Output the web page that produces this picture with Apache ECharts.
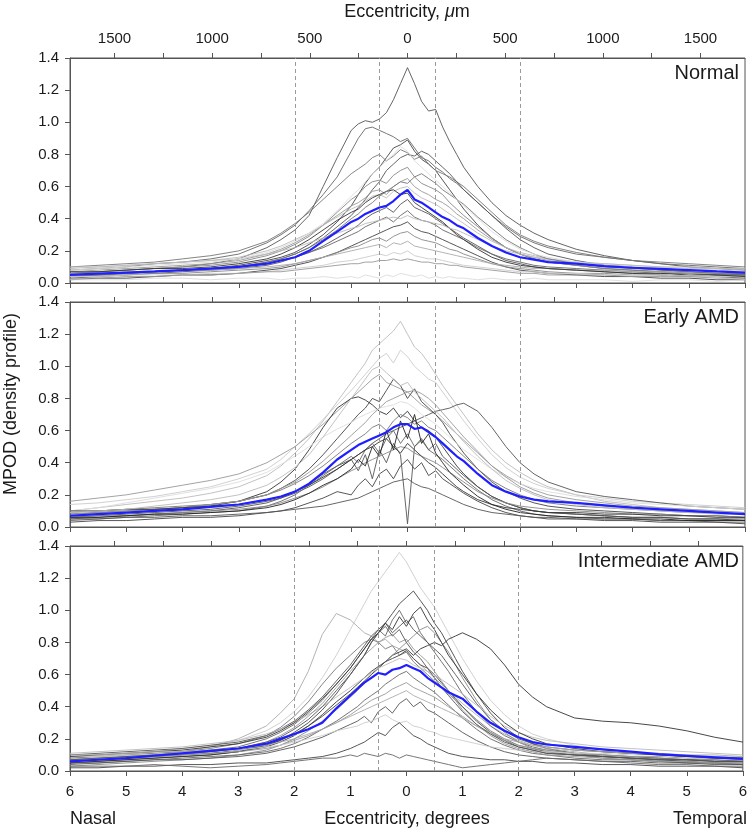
<!DOCTYPE html>
<html><head><meta charset="utf-8">
<script src="https://cdn.jsdelivr.net/npm/echarts@6/dist/echarts.min.js"></script>
<style>html,body{margin:0;padding:0;background:#fff}#c{width:750px;height:832px}</style>
</head><body><div id="c"></div>
<script>
// ---------- data ----------
const eccDeg = [-6,-5.5,-5,-4.5,-4,-3.5,-3,-2.5,-2.25,
  -2,-1.75,-1.5,-1.25,-1,
  -0.875,-0.75,-0.625,-0.5,-0.375,-0.25,-0.125,0,0.125,0.25,0.375,0.5,0.625,0.75,0.875,
  1,1.25,1.5,1.75,2,
  2.25,2.5,3,3.5,4,4.5,5,5.5,6];
const umPerDegree = 288;
const umTickValues = [-1500,-1250,-1000,-750,-500,-250,0,250,500,750,1000,1250,1500];
const umLabelValues = [-1500,-1000,-500,0,500,1000,1500];
const dashedAt = [-2,-0.5,0.5,2];
const panelNames = ['Normal','Early AMD','Intermediate AMD'];

const normalCurves = [
 [0.06,0.07,0.08,0.09,0.10,0.12,0.15,0.22,0.27, 0.33,0.42,0.60,0.78,0.95, 0.99,1.01,1.00,1.02,1.06,1.14,1.24,1.34,1.24,1.13,1.07,1.08,0.97,0.88,0.80, 0.72,0.60,0.50,0.42,0.36, 0.31,0.27,0.21,0.17,0.14,0.12,0.10,0.09,0.08],
 [0.08,0.09,0.10,0.12,0.13,0.15,0.18,0.25,0.30, 0.36,0.45,0.55,0.66,0.82, 0.90,0.96,0.97,0.95,0.93,0.91,0.88,0.90,0.84,0.78,0.76,0.72,0.69,0.65,0.62, 0.58,0.50,0.42,0.35,0.29, 0.25,0.22,0.18,0.16,0.14,0.12,0.11,0.10,0.09],
 [0.04,0.05,0.06,0.07,0.08,0.09,0.11,0.14,0.16, 0.19,0.24,0.30,0.38,0.48, 0.55,0.62,0.68,0.72,0.78,0.84,0.86,0.89,0.82,0.77,0.74,0.70,0.64,0.58,0.52, 0.46,0.36,0.28,0.22,0.18, 0.15,0.13,0.11,0.09,0.08,0.07,0.06,0.05,0.05],
 [0.10,0.11,0.12,0.13,0.15,0.17,0.20,0.26,0.31, 0.37,0.44,0.52,0.60,0.68, 0.71,0.74,0.78,0.80,0.76,0.79,0.83,0.81,0.77,0.79,0.74,0.70,0.68,0.66,0.63, 0.60,0.52,0.44,0.36,0.30, 0.26,0.23,0.19,0.16,0.14,0.13,0.12,0.11,0.10],
 [0.05,0.06,0.06,0.07,0.08,0.09,0.10,0.13,0.15, 0.18,0.22,0.28,0.35,0.42, 0.47,0.52,0.58,0.63,0.70,0.74,0.78,0.80,0.79,0.82,0.80,0.76,0.72,0.68,0.63, 0.58,0.50,0.42,0.34,0.27, 0.22,0.18,0.14,0.11,0.10,0.08,0.07,0.06,0.05],
 [0.06,0.07,0.08,0.09,0.10,0.11,0.13,0.17,0.20, 0.24,0.29,0.36,0.44,0.52, 0.55,0.60,0.63,0.64,0.62,0.67,0.70,0.72,0.66,0.62,0.60,0.58,0.55,0.50,0.46, 0.42,0.35,0.28,0.22,0.18, 0.15,0.13,0.11,0.09,0.08,0.07,0.06,0.05,0.05],
 [0.07,0.08,0.09,0.10,0.11,0.12,0.14,0.18,0.21, 0.25,0.30,0.36,0.42,0.48, 0.50,0.53,0.57,0.58,0.55,0.60,0.63,0.65,0.60,0.57,0.55,0.52,0.50,0.47,0.43, 0.40,0.33,0.27,0.22,0.18, 0.16,0.14,0.12,0.11,0.10,0.09,0.08,0.08,0.07],
 [0.09,0.10,0.11,0.12,0.13,0.14,0.16,0.20,0.23, 0.27,0.31,0.36,0.41,0.46, 0.48,0.51,0.54,0.55,0.53,0.57,0.59,0.60,0.56,0.53,0.51,0.49,0.46,0.43,0.40, 0.37,0.31,0.26,0.22,0.19, 0.17,0.15,0.13,0.12,0.11,0.10,0.09,0.09,0.08],
 [0.03,0.04,0.05,0.06,0.07,0.08,0.09,0.11,0.13, 0.16,0.19,0.23,0.28,0.33, 0.36,0.40,0.43,0.45,0.47,0.44,0.49,0.52,0.47,0.45,0.43,0.40,0.37,0.34,0.31, 0.28,0.23,0.18,0.14,0.12, 0.10,0.09,0.08,0.07,0.06,0.05,0.04,0.04,0.03],
 [0.05,0.06,0.06,0.07,0.08,0.09,0.10,0.12,0.14, 0.16,0.19,0.22,0.26,0.30, 0.32,0.35,0.37,0.39,0.41,0.38,0.42,0.45,0.41,0.39,0.38,0.36,0.33,0.31,0.29, 0.27,0.22,0.18,0.15,0.13, 0.11,0.10,0.09,0.08,0.07,0.06,0.06,0.05,0.05],
 [0.02,0.03,0.03,0.04,0.05,0.05,0.06,0.08,0.09, 0.11,0.13,0.16,0.19,0.23, 0.25,0.27,0.29,0.31,0.33,0.35,0.36,0.38,0.34,0.32,0.31,0.29,0.27,0.25,0.23, 0.21,0.17,0.13,0.10,0.08, 0.07,0.06,0.05,0.04,0.04,0.03,0.03,0.02,0.02],
 [0.04,0.05,0.05,0.06,0.06,0.07,0.08,0.09,0.10, 0.12,0.14,0.16,0.19,0.22, 0.23,0.25,0.27,0.28,0.26,0.29,0.31,0.32,0.29,0.27,0.26,0.25,0.23,0.21,0.20, 0.18,0.15,0.12,0.10,0.09, 0.08,0.07,0.06,0.06,0.05,0.05,0.04,0.04,0.04],
 [0.06,0.06,0.07,0.07,0.08,0.08,0.09,0.10,0.11, 0.12,0.14,0.16,0.18,0.20, 0.21,0.22,0.23,0.24,0.22,0.25,0.24,0.26,0.23,0.22,0.21,0.20,0.19,0.18,0.17, 0.16,0.14,0.12,0.11,0.10, 0.09,0.09,0.08,0.08,0.07,0.07,0.06,0.06,0.06],
 [0.04,0.04,0.05,0.05,0.05,0.06,0.06,0.07,0.08, 0.09,0.10,0.11,0.13,0.14, 0.15,0.16,0.17,0.18,0.17,0.19,0.18,0.20,0.17,0.16,0.15,0.15,0.14,0.13,0.12, 0.11,0.10,0.09,0.08,0.07, 0.07,0.06,0.06,0.05,0.05,0.05,0.04,0.04,0.04],
 [0.02,0.02,0.02,0.03,0.03,0.02,0.03,0.03,0.02, 0.03,0.03,0.04,0.03,0.04, 0.03,0.05,0.04,0.03,0.05,0.04,0.06,0.05,0.04,0.05,0.03,0.04,0.03,0.04,0.03, 0.03,0.02,0.03,0.02,0.02, 0.03,0.02,0.02,0.02,0.01,0.02,0.02,0.01,0.02],
 [0.07,0.07,0.08,0.09,0.09,0.10,0.12,0.15,0.18, 0.22,0.27,0.33,0.39,0.44, 0.46,0.50,0.53,0.55,0.57,0.58,0.55,0.56,0.50,0.47,0.44,0.41,0.38,0.34,0.30, 0.27,0.21,0.16,0.13,0.11, 0.10,0.09,0.08,0.07,0.06,0.06,0.05,0.05,0.04],
 [0.10,0.10,0.11,0.12,0.13,0.14,0.15,0.18,0.20, 0.22,0.25,0.28,0.31,0.34, 0.35,0.37,0.38,0.39,0.40,0.41,0.40,0.42,0.40,0.39,0.38,0.37,0.36,0.34,0.33, 0.31,0.27,0.23,0.20,0.18, 0.16,0.15,0.13,0.12,0.11,0.10,0.10,0.09,0.09],
 [0.05,0.05,0.06,0.07,0.08,0.09,0.10,0.13,0.15, 0.18,0.22,0.27,0.33,0.40, 0.43,0.47,0.50,0.54,0.57,0.60,0.63,0.62,0.66,0.68,0.65,0.62,0.58,0.55,0.52, 0.49,0.41,0.34,0.27,0.22, 0.18,0.15,0.12,0.10,0.09,0.08,0.07,0.06,0.06],
 [0.08,0.09,0.10,0.11,0.12,0.13,0.15,0.19,0.22, 0.26,0.31,0.37,0.45,0.54, 0.58,0.63,0.68,0.72,0.76,0.80,0.85,0.82,0.76,0.72,0.68,0.64,0.60,0.56,0.52, 0.48,0.40,0.32,0.26,0.21, 0.18,0.16,0.13,0.11,0.10,0.09,0.08,0.08,0.07],
 [0.03,0.03,0.04,0.04,0.05,0.05,0.06,0.07,0.07, 0.08,0.09,0.10,0.11,0.12, 0.12,0.13,0.13,0.14,0.14,0.15,0.14,0.15,0.14,0.13,0.13,0.12,0.12,0.11,0.11, 0.10,0.09,0.08,0.07,0.06, 0.06,0.05,0.05,0.05,0.04,0.04,0.04,0.03,0.03]
];
const normalShades = ['#555','#666','#444','#777','#555','#888','#999','#bbb','#555','#666','#444','#888','#aaa','#ccc','#ddd','#333','#bbb','#777','#ddd','#999'];
const normalMean = [0.050,0.058,0.065,0.072,0.080,0.090,0.100,0.120,0.140, 0.16,0.20,0.26,0.32,0.38, 0.40,0.43,0.45,0.47,0.48,0.51,0.55,0.58,0.52,0.50,0.47,0.44,0.41,0.39,0.36, 0.34,0.28,0.23,0.19,0.16, 0.145,0.13,0.12,0.105,0.095,0.088,0.08,0.072,0.065];

const earlyCurves = [
 [0.10,0.12,0.14,0.16,0.18,0.21,0.25,0.32,0.38, 0.46,0.55,0.66,0.78,0.90, 0.96,1.02,1.10,1.14,1.18,1.22,1.28,1.20,1.12,1.08,1.02,0.95,0.88,0.82,0.76, 0.70,0.58,0.48,0.40,0.34, 0.29,0.25,0.20,0.16,0.14,0.12,0.11,0.10,0.09],
 [0.14,0.15,0.17,0.19,0.22,0.25,0.30,0.36,0.42, 0.50,0.58,0.67,0.76,0.85, 0.90,0.95,1.00,1.05,1.08,1.02,1.10,1.06,1.00,0.96,0.92,0.90,0.84,0.78,0.72, 0.66,0.55,0.45,0.37,0.31, 0.27,0.24,0.20,0.18,0.16,0.15,0.14,0.13,0.12],
 [0.16,0.18,0.20,0.23,0.26,0.29,0.33,0.40,0.45, 0.50,0.57,0.64,0.72,0.80, 0.84,0.88,0.92,0.95,0.90,0.88,0.86,0.84,0.80,0.76,0.73,0.70,0.66,0.62,0.58, 0.54,0.46,0.38,0.32,0.27, 0.23,0.20,0.17,0.15,0.13,0.12,0.11,0.10,0.09],
 [0.08,0.09,0.10,0.11,0.12,0.14,0.16,0.20,0.24, 0.29,0.36,0.45,0.55,0.65, 0.70,0.74,0.80,0.78,0.85,0.92,0.88,0.80,0.86,0.78,0.74,0.70,0.65,0.58,0.52, 0.46,0.36,0.28,0.22,0.18, 0.15,0.13,0.11,0.10,0.09,0.08,0.07,0.07,0.06],
 [0.06,0.07,0.08,0.09,0.10,0.11,0.13,0.16,0.18, 0.21,0.25,0.30,0.36,0.42, 0.45,0.48,0.52,0.55,0.58,0.60,0.62,0.64,0.66,0.68,0.70,0.72,0.73,0.74,0.76, 0.77,0.72,0.62,0.50,0.40, 0.33,0.28,0.22,0.19,0.17,0.15,0.13,0.12,0.11],
 [0.07,0.08,0.09,0.10,0.11,0.13,0.16,0.22,0.28, 0.36,0.48,0.62,0.74,0.80, 0.81,0.79,0.76,0.72,0.70,0.74,0.68,0.72,0.66,0.62,0.60,0.56,0.50,0.44,0.38, 0.33,0.25,0.19,0.15,0.12, 0.10,0.09,0.08,0.07,0.06,0.06,0.05,0.05,0.04],
 [0.05,0.06,0.07,0.08,0.09,0.10,0.12,0.15,0.18, 0.22,0.27,0.33,0.38,0.42, 0.35,0.45,0.30,0.48,0.40,0.52,0.45,0.02,0.50,0.55,0.48,0.52,0.44,0.40,0.36, 0.32,0.25,0.19,0.15,0.12, 0.10,0.09,0.08,0.07,0.06,0.06,0.05,0.05,0.05],
 [0.09,0.10,0.11,0.12,0.13,0.14,0.16,0.20,0.23, 0.27,0.32,0.38,0.45,0.52, 0.55,0.58,0.62,0.64,0.60,0.66,0.70,0.68,0.64,0.66,0.62,0.60,0.56,0.52,0.48, 0.44,0.36,0.29,0.24,0.20, 0.17,0.15,0.13,0.12,0.11,0.10,0.09,0.09,0.08],
 [0.04,0.05,0.06,0.07,0.08,0.09,0.10,0.13,0.16, 0.20,0.26,0.32,0.38,0.44, 0.40,0.48,0.52,0.46,0.55,0.60,0.52,0.58,0.50,0.54,0.48,0.45,0.42,0.38,0.34, 0.30,0.23,0.17,0.13,0.10, 0.08,0.07,0.06,0.05,0.05,0.04,0.04,0.03,0.03],
 [0.06,0.07,0.07,0.08,0.09,0.10,0.11,0.13,0.15, 0.18,0.21,0.25,0.30,0.35, 0.37,0.40,0.42,0.44,0.46,0.48,0.50,0.49,0.46,0.44,0.42,0.40,0.37,0.34,0.31, 0.28,0.22,0.18,0.15,0.13, 0.12,0.11,0.10,0.09,0.08,0.08,0.07,0.07,0.06],
 [0.03,0.04,0.04,0.05,0.06,0.06,0.07,0.09,0.10, 0.12,0.15,0.18,0.22,0.20, 0.26,0.30,0.25,0.33,0.36,0.30,0.38,0.42,0.36,0.40,0.32,0.35,0.30,0.27,0.24, 0.21,0.16,0.12,0.09,0.07, 0.06,0.05,0.05,0.04,0.04,0.03,0.03,0.03,0.02],
 [0.05,0.05,0.06,0.06,0.07,0.07,0.08,0.09,0.10, 0.11,0.12,0.13,0.15,0.17, 0.18,0.20,0.22,0.24,0.26,0.28,0.29,0.30,0.27,0.25,0.24,0.22,0.20,0.18,0.16, 0.14,0.11,0.09,0.08,0.07, 0.06,0.06,0.05,0.05,0.05,0.04,0.04,0.04,0.04],
 [0.10,0.12,0.15,0.18,0.21,0.24,0.28,0.34,0.39, 0.44,0.50,0.56,0.61,0.65, 0.68,0.70,0.72,0.74,0.75,0.76,0.78,0.77,0.74,0.70,0.67,0.64,0.60,0.56,0.52, 0.48,0.42,0.36,0.31,0.27, 0.24,0.22,0.19,0.17,0.15,0.14,0.13,0.12,0.11],
 [0.08,0.09,0.10,0.11,0.12,0.14,0.16,0.20,0.24, 0.28,0.34,0.41,0.49,0.57, 0.61,0.65,0.70,0.74,0.78,0.80,0.82,0.84,0.85,0.83,0.80,0.76,0.71,0.66,0.61, 0.56,0.47,0.38,0.31,0.25, 0.21,0.18,0.15,0.13,0.12,0.11,0.10,0.09,0.08],
 [0.10,0.10,0.11,0.11,0.12,0.13,0.14,0.17,0.19, 0.22,0.26,0.31,0.36,0.42, 0.45,0.48,0.50,0.53,0.55,0.50,0.46,0.52,0.48,0.44,0.40,0.37,0.33,0.29,0.25, 0.22,0.17,0.14,0.12,0.11, 0.10,0.09,0.09,0.08,0.08,0.07,0.07,0.06,0.06],
 [0.06,0.06,0.07,0.08,0.08,0.09,0.10,0.12,0.14, 0.17,0.21,0.26,0.30,0.36, 0.42,0.38,0.50,0.44,0.60,0.48,0.66,0.55,0.70,0.52,0.58,0.46,0.40,0.34,0.30, 0.26,0.19,0.14,0.11,0.09, 0.08,0.07,0.06,0.06,0.05,0.05,0.04,0.04,0.04],
 [0.09,0.10,0.11,0.13,0.15,0.17,0.20,0.26,0.31, 0.37,0.45,0.56,0.68,0.80, 0.86,0.92,0.98,1.00,0.96,0.92,0.88,0.90,0.84,0.80,0.76,0.72,0.68,0.63,0.58, 0.53,0.44,0.36,0.29,0.24, 0.20,0.17,0.14,0.12,0.11,0.10,0.09,0.08,0.08]
];
const earlyShades = ['#bbb','#ccc','#999','#444','#555','#333','#555','#777','#666','#888','#444','#555','#ddd','#999','#333','#222','#bbb'];
const earlyMean = [0.07,0.08,0.09,0.10,0.11,0.125,0.14,0.17,0.19, 0.22,0.27,0.34,0.42,0.48, 0.51,0.53,0.55,0.57,0.59,0.62,0.64,0.64,0.61,0.62,0.59,0.56,0.52,0.48,0.44, 0.41,0.33,0.26,0.22,0.19, 0.17,0.16,0.15,0.135,0.12,0.11,0.10,0.09,0.08];

const interCurves = [
 [0.08,0.09,0.10,0.12,0.14,0.16,0.19,0.25,0.30, 0.37,0.46,0.58,0.72,0.88, 0.96,1.04,1.12,1.18,1.24,1.30,1.36,1.30,1.22,1.14,1.08,1.02,0.94,0.86,0.78, 0.70,0.56,0.44,0.35,0.28, 0.23,0.20,0.16,0.13,0.11,0.10,0.09,0.08,0.07],
 [0.05,0.06,0.07,0.08,0.09,0.10,0.12,0.16,0.19, 0.24,0.30,0.38,0.48,0.60, 0.66,0.72,0.80,0.86,0.92,0.98,1.04,1.08,1.12,1.06,1.00,0.92,0.86,0.78,0.70, 0.62,0.48,0.36,0.27,0.21, 0.17,0.14,0.11,0.09,0.08,0.07,0.06,0.05,0.05],
 [0.06,0.07,0.08,0.10,0.12,0.15,0.20,0.28,0.36, 0.45,0.62,0.85,0.98,0.94, 0.90,0.86,0.84,0.80,0.82,0.78,0.76,0.74,0.70,0.66,0.62,0.58,0.54,0.50,0.46, 0.42,0.35,0.28,0.23,0.19, 0.16,0.14,0.12,0.10,0.09,0.08,0.07,0.07,0.06],
 [0.05,0.06,0.07,0.08,0.09,0.10,0.12,0.15,0.18, 0.22,0.28,0.35,0.43,0.50, 0.54,0.58,0.62,0.65,0.68,0.72,0.74,0.76,0.72,0.76,0.78,0.80,0.78,0.82,0.84, 0.86,0.82,0.76,0.66,0.54, 0.46,0.40,0.33,0.31,0.30,0.28,0.25,0.21,0.18],
 [0.07,0.08,0.09,0.10,0.11,0.13,0.15,0.20,0.24, 0.29,0.36,0.44,0.54,0.64, 0.70,0.76,0.82,0.88,0.84,0.94,1.00,0.92,0.96,0.86,0.80,0.74,0.68,0.62,0.55, 0.48,0.37,0.28,0.22,0.18, 0.15,0.13,0.11,0.10,0.09,0.08,0.07,0.06,0.06],
 [0.10,0.11,0.12,0.13,0.14,0.16,0.18,0.22,0.26, 0.31,0.38,0.46,0.56,0.66, 0.72,0.78,0.84,0.88,0.92,0.86,0.90,0.94,0.88,0.84,0.80,0.76,0.72,0.66,0.60, 0.54,0.42,0.32,0.25,0.20, 0.17,0.15,0.13,0.12,0.11,0.10,0.09,0.09,0.08],
 [0.03,0.04,0.05,0.06,0.07,0.08,0.10,0.13,0.16, 0.20,0.25,0.31,0.38,0.46, 0.50,0.55,0.60,0.64,0.68,0.72,0.76,0.80,0.84,0.88,0.90,0.86,0.80,0.74,0.66, 0.58,0.44,0.32,0.24,0.18, 0.14,0.12,0.10,0.08,0.07,0.06,0.05,0.05,0.04],
 [0.08,0.09,0.10,0.11,0.12,0.14,0.17,0.22,0.27, 0.34,0.43,0.54,0.64,0.72, 0.76,0.80,0.82,0.80,0.76,0.78,0.72,0.74,0.68,0.64,0.60,0.56,0.52,0.48,0.44, 0.40,0.32,0.25,0.20,0.16, 0.14,0.12,0.10,0.09,0.08,0.08,0.07,0.07,0.06],
 [0.06,0.07,0.08,0.09,0.10,0.11,0.13,0.16,0.19, 0.23,0.28,0.34,0.41,0.48, 0.52,0.56,0.60,0.64,0.68,0.70,0.72,0.75,0.70,0.66,0.64,0.60,0.55,0.50,0.45, 0.40,0.31,0.24,0.19,0.15, 0.13,0.11,0.10,0.09,0.08,0.07,0.07,0.06,0.06],
 [0.11,0.12,0.13,0.14,0.15,0.17,0.19,0.23,0.26, 0.30,0.35,0.40,0.46,0.52, 0.55,0.58,0.61,0.64,0.66,0.68,0.70,0.69,0.66,0.64,0.62,0.60,0.57,0.54,0.51, 0.48,0.41,0.34,0.28,0.24, 0.21,0.19,0.17,0.15,0.14,0.13,0.12,0.11,0.10],
 [0.04,0.05,0.06,0.07,0.08,0.09,0.10,0.12,0.14, 0.17,0.21,0.26,0.31,0.37, 0.40,0.44,0.47,0.50,0.54,0.57,0.60,0.62,0.58,0.55,0.52,0.49,0.45,0.41,0.37, 0.33,0.26,0.20,0.16,0.13, 0.11,0.10,0.08,0.07,0.07,0.06,0.05,0.05,0.04],
 [0.07,0.08,0.08,0.09,0.10,0.11,0.12,0.14,0.16, 0.19,0.22,0.26,0.30,0.35, 0.38,0.41,0.44,0.46,0.48,0.51,0.53,0.55,0.52,0.50,0.48,0.46,0.43,0.40,0.37, 0.34,0.28,0.23,0.19,0.16, 0.14,0.13,0.11,0.10,0.09,0.09,0.08,0.08,0.07],
 [0.05,0.05,0.06,0.07,0.07,0.08,0.09,0.11,0.13, 0.15,0.18,0.21,0.25,0.29, 0.31,0.34,0.30,0.37,0.40,0.36,0.42,0.45,0.40,0.43,0.38,0.36,0.33,0.30,0.27, 0.24,0.19,0.15,0.12,0.10, 0.09,0.08,0.07,0.06,0.06,0.05,0.05,0.04,0.04],
 [0.09,0.09,0.10,0.10,0.11,0.12,0.13,0.15,0.16, 0.18,0.20,0.22,0.25,0.27, 0.28,0.30,0.31,0.33,0.35,0.32,0.30,0.31,0.28,0.27,0.25,0.24,0.22,0.21,0.20, 0.19,0.17,0.15,0.14,0.13, 0.12,0.12,0.11,0.11,0.10,0.10,0.10,0.09,0.09],
 [0.02,0.02,0.03,0.03,0.04,0.04,0.05,0.05,0.06, 0.07,0.08,0.09,0.11,0.14, 0.16,0.18,0.21,0.24,0.22,0.27,0.30,0.26,0.22,0.20,0.17,0.15,0.13,0.11,0.10, 0.09,0.08,0.07,0.07,0.06, 0.06,0.05,0.05,0.04,0.04,0.03,0.03,0.03,0.02],
 [0.03,0.03,0.03,0.04,0.03,0.02,0.03,0.04,0.05, 0.06,0.07,0.08,0.08,0.10, 0.09,0.11,0.10,0.09,0.11,0.10,0.08,0.10,0.09,0.08,0.07,0.06,0.05,0.04,0.03, 0.02,0.03,0.04,0.05,0.06, 0.07,0.08,0.07,0.06,0.05,0.04,0.04,0.03,0.03],
 [0.06,0.07,0.08,0.09,0.10,0.12,0.14,0.18,0.22, 0.27,0.34,0.42,0.52,0.62, 0.67,0.72,0.76,0.80,0.83,0.85,0.80,0.82,0.76,0.72,0.68,0.62,0.56,0.50,0.44, 0.38,0.29,0.22,0.17,0.14, 0.12,0.10,0.09,0.08,0.07,0.06,0.06,0.05,0.05],
 [0.09,0.10,0.11,0.12,0.13,0.15,0.17,0.21,0.25, 0.30,0.37,0.45,0.54,0.64, 0.70,0.76,0.82,0.86,0.92,0.88,0.96,0.90,0.98,1.02,0.94,0.88,0.80,0.72,0.66, 0.60,0.48,0.38,0.30,0.24, 0.20,0.17,0.14,0.12,0.11,0.10,0.09,0.08,0.08],
 [0.10,0.10,0.11,0.12,0.12,0.13,0.14,0.16,0.18, 0.20,0.23,0.26,0.30,0.34, 0.36,0.38,0.40,0.42,0.44,0.46,0.48,0.50,0.47,0.45,0.43,0.41,0.39,0.37,0.35, 0.33,0.28,0.24,0.20,0.18, 0.16,0.15,0.13,0.12,0.11,0.11,0.10,0.10,0.09],
 [0.07,0.08,0.09,0.10,0.11,0.12,0.14,0.18,0.21, 0.26,0.32,0.40,0.50,0.60, 0.66,0.72,0.80,0.86,0.90,0.84,0.88,0.80,0.74,0.70,0.64,0.58,0.52,0.47,0.42, 0.37,0.29,0.23,0.18,0.15, 0.13,0.11,0.10,0.09,0.08,0.07,0.07,0.06,0.06]
];
const interShades = ['#ccc','#444','#aaa','#333','#666','#555','#888','#777','#444','#bbb','#666','#999','#555','#ccc','#444','#666','#999','#333','#aaa','#555'];
const interMean = [0.06,0.07,0.08,0.095,0.11,0.125,0.14,0.17,0.20, 0.23,0.26,0.30,0.39,0.47, 0.51,0.55,0.58,0.61,0.60,0.63,0.64,0.66,0.64,0.62,0.58,0.55,0.52,0.49,0.47, 0.45,0.37,0.30,0.25,0.21, 0.18,0.165,0.15,0.135,0.12,0.105,0.095,0.085,0.075];

// ---------- chart ----------
const FONT = '"Liberation Sans", Arial, Helvetica, sans-serif';
const TXT = '#1a1a1a';
const AX = '#555';
const TICKFS = 15;
const TITLEFS = 18;
const panels = [
  {curves: normalCurves, shades: normalShades, mean: normalMean},
  {curves: earlyCurves, shades: earlyShades, mean: earlyMean},
  {curves: interCurves, shades: interShades, mean: interMean}
];
const gridTops = [58, 302, 546];
const gridH = 225;
const umMax = 6 * umPerDegree;

const grids = [], xAxes = [], yAxes = [], series = [], graphics = [];
let bad = [];
panels.forEach((p, i) => {
  grids.push({left: 70, right: 5, top: gridTops[i], height: gridH, show: true, borderColor: AX, borderWidth: 1, backgroundColor: 'transparent'});
  xAxes.push({
    type: 'value', gridIndex: i, position: 'bottom', min: -6, max: 6, interval: 1,
    axisLine: {show: true, onZero: false, lineStyle: {color: AX, width: 1}},
    axisTick: {show: true, inside: false, length: 5, lineStyle: {color: AX}},
    axisLabel: {show: i === 2, margin: 13, fontSize: TICKFS, color: TXT, fontFamily: FONT, formatter: v => String(Math.abs(v))},
    splitLine: {show: false}
  });
  xAxes.push({
    type: 'value', gridIndex: i, position: 'top', min: -umMax, max: umMax,
    axisLine: {show: true, onZero: false, lineStyle: {color: AX, width: 1}},
    axisTick: {show: true, inside: false, length: 5, lineStyle: {color: AX}, customValues: umTickValues},
    axisLabel: {show: i === 0, margin: 12, fontSize: TICKFS, color: TXT, fontFamily: FONT, customValues: umLabelValues, formatter: v => String(Math.abs(v))},
    splitLine: {show: false}
  });
  yAxes.push({
    type: 'value', gridIndex: i, min: 0, max: 1.4, interval: 0.2,
    axisLine: {show: true, onZero: false, lineStyle: {color: AX, width: 1}},
    axisTick: {show: true, inside: false, length: 5, lineStyle: {color: AX}},
    axisLabel: {margin: 11, fontSize: TICKFS, color: TXT, fontFamily: FONT, formatter: v => v.toFixed(1)},
    splitLine: {show: false}
  });
  p.curves.forEach((c, k) => {
    if (c.length !== eccDeg.length) bad.push(i + ':' + k + '=' + c.length);
    const s = {
      type: 'line', xAxisIndex: 2 * i, yAxisIndex: i, silent: true, animation: false,
      symbol: 'none', showSymbol: false, z: 2,
      lineStyle: {color: p.shades[k], width: 0.9},
      data: eccDeg.map((x, j) => [x, c[j]])
    };
    if (k === 0) {
      s.markLine = {silent: true, symbol: 'none', animation: false, label: {show: false},
        lineStyle: {type: [4, 3], color: '#9a9a9a', width: 1},
        data: dashedAt.map(v => ({xAxis: v}))};
    }
    series.push(s);
  });
  if (p.mean.length !== eccDeg.length) bad.push(i + ':mean=' + p.mean.length);
  series.push({
    type: 'line', xAxisIndex: 2 * i, yAxisIndex: i, silent: true, animation: false,
    symbol: 'none', showSymbol: false, z: 5,
    lineStyle: {color: '#1f1fff', width: 2.2},
    data: eccDeg.map((x, j) => [x, p.mean[j]])
  });
  graphics.push({type: 'text', x: 739, y: gridTops[i] + 15, z: 10,
    style: {text: panelNames[i], fontSize: 20, fontFamily: FONT, fill: TXT, align: 'right', verticalAlign: 'middle'}});
});

graphics.push({type: 'text', x: 407, y: 12,
  style: {text: '{a|Eccentricity, }{b|μ}{a|m}', align: 'center', verticalAlign: 'middle',
    rich: {a: {fontSize: TITLEFS, fontFamily: FONT, fill: TXT, color: TXT},
           b: {fontSize: TITLEFS, fontFamily: FONT, fontStyle: 'italic', fill: TXT, color: TXT}}}});
graphics.push({type: 'text', x: 11, y: 404, rotation: Math.PI / 2,
  style: {text: 'MPOD (density profile)', fontSize: TITLEFS, fontFamily: FONT, fill: TXT, align: 'center', verticalAlign: 'middle'}});
graphics.push({type: 'text', x: 70, y: 819,
  style: {text: 'Nasal', fontSize: TITLEFS, fontFamily: FONT, fill: TXT, align: 'left', verticalAlign: 'middle'}});
graphics.push({type: 'text', x: 407, y: 819,
  style: {text: 'Eccentricity, degrees', fontSize: TITLEFS, fontFamily: FONT, fill: TXT, align: 'center', verticalAlign: 'middle'}});
graphics.push({type: 'text', x: 747, y: 819,
  style: {text: 'Temporal', fontSize: TITLEFS, fontFamily: FONT, fill: TXT, align: 'right', verticalAlign: 'middle'}});
if (bad.length) graphics.push({type: 'text', x: 100, y: 200, style: {text: 'LEN ' + bad.join(' '), fontSize: 14, fill: 'red'}});

const chart = echarts.init(document.getElementById('c'), null, {renderer: 'canvas'});
chart.setOption({
  animation: false,
  backgroundColor: '#fff',
  grid: grids, xAxis: xAxes, yAxis: yAxes, series: series, graphic: graphics
});
</script>
</body></html>
